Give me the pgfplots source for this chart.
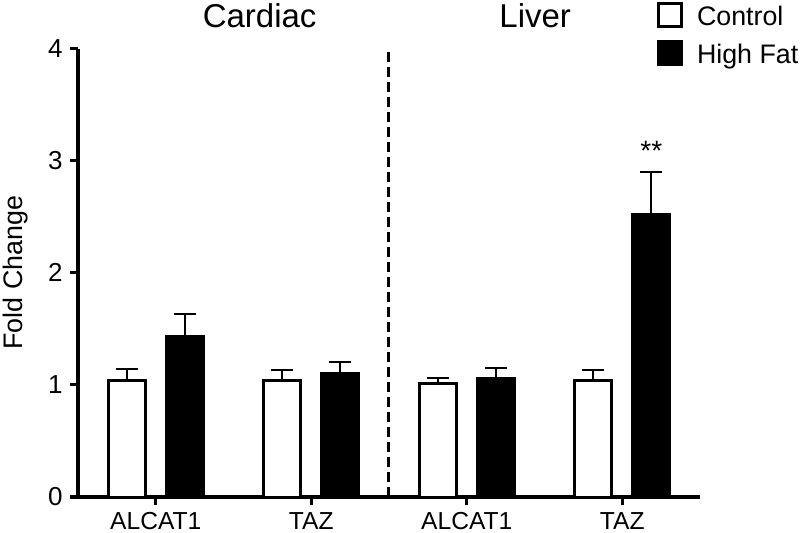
\documentclass[border=0pt]{standalone}
\usepackage{pgfplots}
\pgfplotsset{compat=1.18}
\usepackage{fontspec}
\setmainfont{Liberation Sans}
\begin{document}
\begin{tikzpicture}
\begin{axis}[
  scale only axis,
  width=311pt, height=224.25pt,
  xmin=-0.5, xmax=3.5,
  ymin=0, ymax=4,
  axis x line=bottom, axis y line=left,
  axis line style={-, line width=1.6pt, black},
  xtick={0,1,2,3},
  xticklabels={ALCAT1,TAZ,ALCAT1,TAZ},
  ytick={0,1,2,3,4},
  tick align=outside,
  major tick length=4.2pt,
  tick style={line width=1.6pt, black},
  /pgf/number format/assume math mode=true,
  xticklabel style={font=\fontsize{12.3}{14}\selectfont},
  yticklabel style={font=\fontsize{13}{15}\selectfont},
  ylabel={Fold Change},
  ylabel style={at={(axis description cs:-0.09,0.5)}, anchor=base, font=\fontsize{13.4}{16}\selectfont},
  clip=false,
  legend style={draw=none, fill=none, at={(rel axis cs:0.9309,1.1037)}, anchor=north west,
    inner sep=0pt, outer sep=0pt, row sep=5.5pt, column sep=7pt,
    nodes={inner sep=0pt}, cells={anchor=base west},
    font=\fontsize{13.4}{16}\selectfont},
  legend image code/.code={\draw[#1, line width=1.5pt] (0.75pt,-0.25pt) rectangle (12.25pt,11.25pt);},
]
\addplot[forget plot, black, line width=1.5pt, dash pattern=on 5pt off 2.5pt] coordinates {(1.5,0) (1.5,4)};
\addplot[ybar, bar width=0.24, bar shift=0pt, draw=black, fill=white, line width=1.5pt,
  error bars/.cd, y dir=plus, y explicit,
  error bar style={line width=1pt, black},
  error mark options={rotate=90, mark size=5.5pt, line width=1pt, black}]
  coordinates {(-0.187,1.04) +- (0,0.10) (0.813,1.04) +- (0,0.09) (1.813,1.01) +- (0,0.05) (2.813,1.035) +- (0,0.10)};
\addlegendentry{Control}
\addplot[ybar, bar width=0.24, bar shift=0pt, draw=black, fill=black, line width=1.5pt,
  error bars/.cd, y dir=plus, y explicit,
  error bar style={line width=1pt, black},
  error mark options={rotate=90, mark size=5.5pt, line width=1pt, black}]
  coordinates {(0.187,1.43) +- (0,0.20) (1.187,1.10) +- (0,0.10) (2.187,1.06) +- (0,0.09) (3.187,2.52) +- (0,0.38)};
\addlegendentry{High Fat}
\node[anchor=base, font=\fontsize{16.5}{19}\selectfont] at (axis cs:0.668,4.19) {Cardiac};
\node[anchor=base, font=\fontsize{16.5}{19}\selectfont] at (axis cs:2.44,4.19) {Liver};
\node[anchor=base, font=\fontsize{14}{16}\selectfont] at (axis cs:3.187,3.0) {**};
\end{axis}
\pgfresetboundingbox
\path[use as bounding box] (-39pt,-17.5pt) rectangle (361pt,248.5pt);
\end{tikzpicture}
\end{document}
